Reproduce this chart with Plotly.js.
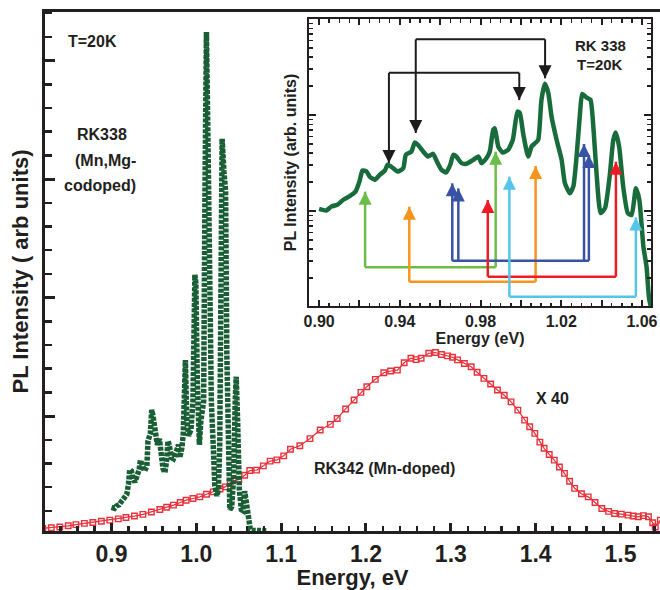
<!DOCTYPE html>
<html><head><meta charset="utf-8">
<script src="https://cdn.plot.ly/plotly-3.0.1.min.js"></script>
<style>body{margin:0;padding:0;background:#fff}#chart{width:660px;height:590px}</style>
</head><body><div id="chart"></div>
<script>
// RK338 (Mn,Mg-codoped) PL spectrum, arbitrary units
const greenE = [0.900,0.9036,0.906,0.909,0.912,0.915,0.918,0.920,0.9215,0.9235,0.925,0.9276,0.930,0.9326,0.934,0.9367,0.939,0.9417,0.943,0.9458,0.9474,0.949,0.9516,0.954,0.9565,0.958,0.9607,0.963,0.965,0.9665,0.968,0.9706,0.973,0.9764,0.979,0.9805,0.983,0.9846,0.9863,0.9871,0.9888,0.991,0.9937,0.996,0.9983,0.9995,1.0011,1.0036,1.0053,1.007,1.0086,1.0102,1.0119,1.0136,1.0152,1.0177,1.0202,1.0218,1.0243,1.026,1.0276,1.0293,1.0304,1.0326,1.0345,1.0359,1.0375,1.0395,1.0417,1.044,1.0458,1.047,1.0487,1.0507,1.053,1.0549,1.057,1.0587,1.0607,1.0623,1.0636,1.066,1.070,1.075,1.080,1.084];
const greenI = [1.05,1.01,1.11,1.16,1.31,1.42,1.59,2.03,2.64,2.58,2.29,2.11,2.38,2.64,3.03,2.79,2.58,2.79,3.85,4.16,5.16,4.89,4.16,3.69,3.94,3.41,2.68,2.52,3.03,3.85,3.69,3.15,3.10,3.41,3.69,3.15,3.56,4.16,7.0,7.26,4.69,4.06,4.34,5.51,10.86,10.5,6.47,3.69,4.69,5.08,5.51,14.4,21.1,16.9,9.6,5.51,3.41,1.95,1.53,1.80,3.69,10.4,16.6,15.2,14.4,7.6,2.46,0.95,1.07,2.29,5.51,6.56,4.69,1.80,0.95,0.91,1.73,1.31,0.43,0.26,0.12,0.08,0.07,0.06,0.06,0.06];

// RK342 (Mn-doped) PL spectrum x 40, arbitrary units
const redE = [0.819,0.829,0.839,0.849,0.858,0.868,0.878,0.888,0.898,0.908,0.917,0.927,0.937,0.947,0.957,0.965,0.973,0.981,0.988,0.996,1.004,1.012,1.020,1.028,1.034,1.040,1.050,1.057,1.063,1.071,1.079,1.087,1.095,1.103,1.111,1.122,1.134,1.146,1.158,1.166,1.176,1.186,1.194,1.201,1.211,1.221,1.229,1.237,1.245,1.253,1.259,1.265,1.274,1.282,1.289,1.296,1.302,1.308,1.316,1.324,1.331,1.339,1.347,1.355,1.363,1.371,1.379,1.387,1.393,1.399,1.405,1.410,1.416,1.422,1.428,1.434,1.440,1.446,1.454,1.462,1.470,1.478,1.486,1.493,1.501,1.509,1.515,1.521,1.527,1.533,1.538,1.541,1.547];
const redI = [0.16,0.19,0.22,0.27,0.32,0.37,0.41,0.46,0.51,0.56,0.62,0.68,0.75,0.85,0.96,1.05,1.14,1.25,1.35,1.42,1.49,1.60,1.70,1.82,1.91,2.10,2.22,2.40,2.60,2.62,2.80,3.00,3.05,3.22,3.50,3.65,3.95,4.31,4.55,4.80,5.20,5.58,5.90,6.14,6.45,6.73,6.80,6.84,7.15,7.34,7.28,7.34,7.55,7.58,7.50,7.44,7.38,7.27,7.12,6.98,6.75,6.49,6.25,6.00,5.78,5.50,5.15,4.73,4.45,4.17,3.80,3.54,3.28,3.04,2.75,2.48,2.15,1.85,1.62,1.49,1.25,1.00,0.88,0.79,0.76,0.72,0.68,0.65,0.70,0.65,0.40,0.22,0.51];

// inset tick labels
const insetTickVals = [0.90,0.92,0.94,0.96,0.98,1.00,1.02,1.04,1.06];
const insetTickText = ['0.90','','0.94','','0.98','','1.02','','1.06'];

// inset transition arrows: groups (colour, horizontal level, direction) and legs (group, energy, tip intensity)
const groupColor = ['#1c1c1c','#1c1c1c','#6cbd47','#f7941d','#3953a4','#ed1c24','#55c5ea'];
const groupLevel = [27.5,61.4,0.259,0.183,0.303,0.207,0.128];
const groupDir = ['down','down','up','up','up','up','up'];
const legGroup = [0,0,1,1,2,2,3,3,4,4,4,4,5,5,6,6];
const legE = [0.9346,0.9992,0.9479,1.012,0.9228,0.9875,0.9447,1.0073,0.966,0.969,1.0313,1.0337,0.9836,1.0471,0.9943,1.057];
const legTip = [3.16,14.3,6.49,24.1,1.59,4.15,1.11,2.94,1.94,1.72,4.99,3.83,1.30,3.26,2.28,0.855];

const ink = '#231f20';
const FONT = 'Liberation Sans, Arial, sans-serif';
const NARROW = 'Liberation Sans Narrow, Arial Narrow, Liberation Sans, Arial, sans-serif';

const traces = [
  {x: redE, y: redI, xaxis:'x', yaxis:'y', mode:'lines+markers', type:'scatter',
   line:{color:'#e8303a', width:1.2},
   marker:{symbol:'square-open', size:5.5, color:'#e8303a', line:{width:1.4, color:'#e8303a'}}},
  {x: greenE, y: greenI, xaxis:'x', yaxis:'y', mode:'lines', type:'scatter',
   line:{color:'#1a5e36', width:5.5, dash:'4px,1.3px'}},
  {x: greenE, y: greenI, xaxis:'x2', yaxis:'y2', mode:'lines', type:'scatter',
   line:{color:'#186b3a', width:4.5, shape:'spline', smoothing:0.5}}
];

const annotations = [];
for (let g = 0; g < groupColor.length; g++) {
  const xs = [], ys = [];
  const es = [];
  for (let k = 0; k < legGroup.length; k++) {
    if (legGroup[k] !== g) continue;
    es.push(legE[k]);
    xs.push(legE[k], legE[k], null);
    ys.push(legTip[k], groupLevel[g], null);
    annotations.push({x: legE[k], y: Math.log10(legTip[k]), xref:'x2', yref:'y2',
      text:'', showarrow:true, arrowhead:2, arrowsize:1.3, arrowwidth:2,
      arrowcolor: groupColor[g], ax:0, ay: groupDir[g] === 'up' ? 14 : -14, standoff:0});
  }
  xs.push(Math.min(...es), Math.max(...es));
  ys.push(groupLevel[g], groupLevel[g]);
  traces.push({x: xs, y: ys, xaxis:'x2', yaxis:'y2', mode:'lines', type:'scatter',
    connectgaps:false, line:{color: groupColor[g], width: g < 2 ? 2 : 2.5}, hoverinfo:'skip'});
}

function txt(text, px, py, size) {
  return {text: text, xref:'paper', yref:'paper', x:(px-45)/615, y:(531-py)/519,
    xanchor:'center', yanchor:'middle', showarrow:false,
    font:{family:FONT, size:size, color:ink, weight:'bold'}};
}
annotations.push(txt('T=20K', 92, 41.5, 16));
annotations.push(txt('RK338', 102, 134, 16));
annotations.push(txt('(Mn,Mg-', 105, 160, 16));
annotations.push(txt('codoped)', 100, 185, 16));
annotations.push(txt('X 40', 552, 398, 16));
annotations.push(txt('RK342 (Mn-doped)', 384.5, 468, 16));
annotations.push(txt('RK 338', 600, 45.7, 15));
annotations.push(txt('T=20K', 599.5, 64.5, 15));

const layout = {
  width:660, height:590, showlegend:false,
  paper_bgcolor:'#ffffff', plot_bgcolor:'#ffffff',
  margin:{l:45, r:0, t:12, b:59},
  xaxis:{range:[0.8216,1.5466], tick0:0, dtick:0.1, tickformat:'.1f',
    ticks:'inside', ticklen:8, tickwidth:3, tickcolor:ink,
    showline:true, linewidth:3, linecolor:ink, mirror:true,
    showgrid:false, zeroline:false,
    minor:{tick0:0, dtick:0.02, ticks:'inside', ticklen:5, tickwidth:2.5, tickcolor:ink, showgrid:false},
    tickfont:{family:NARROW, size:23, color:ink, weight:'bold'},
    title:{text:'Energy, eV', font:{family:FONT, size:22, color:ink, weight:'bold'}, standoff:4}},
  yaxis:{range:[0.05,21.95], tick0:-0.1, dtick:5,
    ticks:'inside', ticklen:10, tickwidth:3, tickcolor:ink, showticklabels:false,
    showline:true, linewidth:3, linecolor:ink, showgrid:false, zeroline:false,
    minor:{tick0:-0.1, dtick:1, ticks:'inside', ticklen:7, tickwidth:2.5, tickcolor:ink, showgrid:false},
    title:{text:'PL Intensity ( arb units)', font:{family:FONT, size:22, color:ink, weight:'bold'}, standoff:8}},
  xaxis2:{domain:[0.4293,0.9854], anchor:'y2', range:[0.895,1.0645],
    tickmode:'array', tickvals:insetTickVals, ticktext:insetTickText,
    ticks:'inside', ticklen:6, tickwidth:2, tickcolor:ink,
    showline:true, linewidth:2, linecolor:ink, mirror:'allticks',
    showgrid:false, zeroline:false,
    minor:{tick0:0.9, dtick:0.005, ticks:'inside', ticklen:3.5, tickwidth:1.5, tickcolor:ink, showgrid:false},
    tickfont:{family:FONT, size:16, color:ink, weight:'bold'},
    title:{text:'Energy (eV)', font:{family:FONT, size:16, color:ink, weight:'bold'}, standoff:4}},
  yaxis2:{domain:[0.4335,0.9865], anchor:'x2', type:'log', range:[-0.99,2.0],
    dtick:1, ticks:'inside', ticklen:7, tickwidth:2, tickcolor:ink, showticklabels:false,
    showline:true, linewidth:2, linecolor:ink, mirror:'allticks',
    showgrid:false, zeroline:false,
    minor:{dtick:'D1', ticks:'inside', ticklen:4, tickwidth:1.5, tickcolor:ink, showgrid:false},
    title:{text:'PL Intensity (arb. units)', font:{family:FONT, size:16, color:ink, weight:'bold'}, standoff:6}},
  annotations: annotations
};

Plotly.newPlot('chart', traces, layout, {displayModeBar:false, staticPlot:true});
</script></body></html>
